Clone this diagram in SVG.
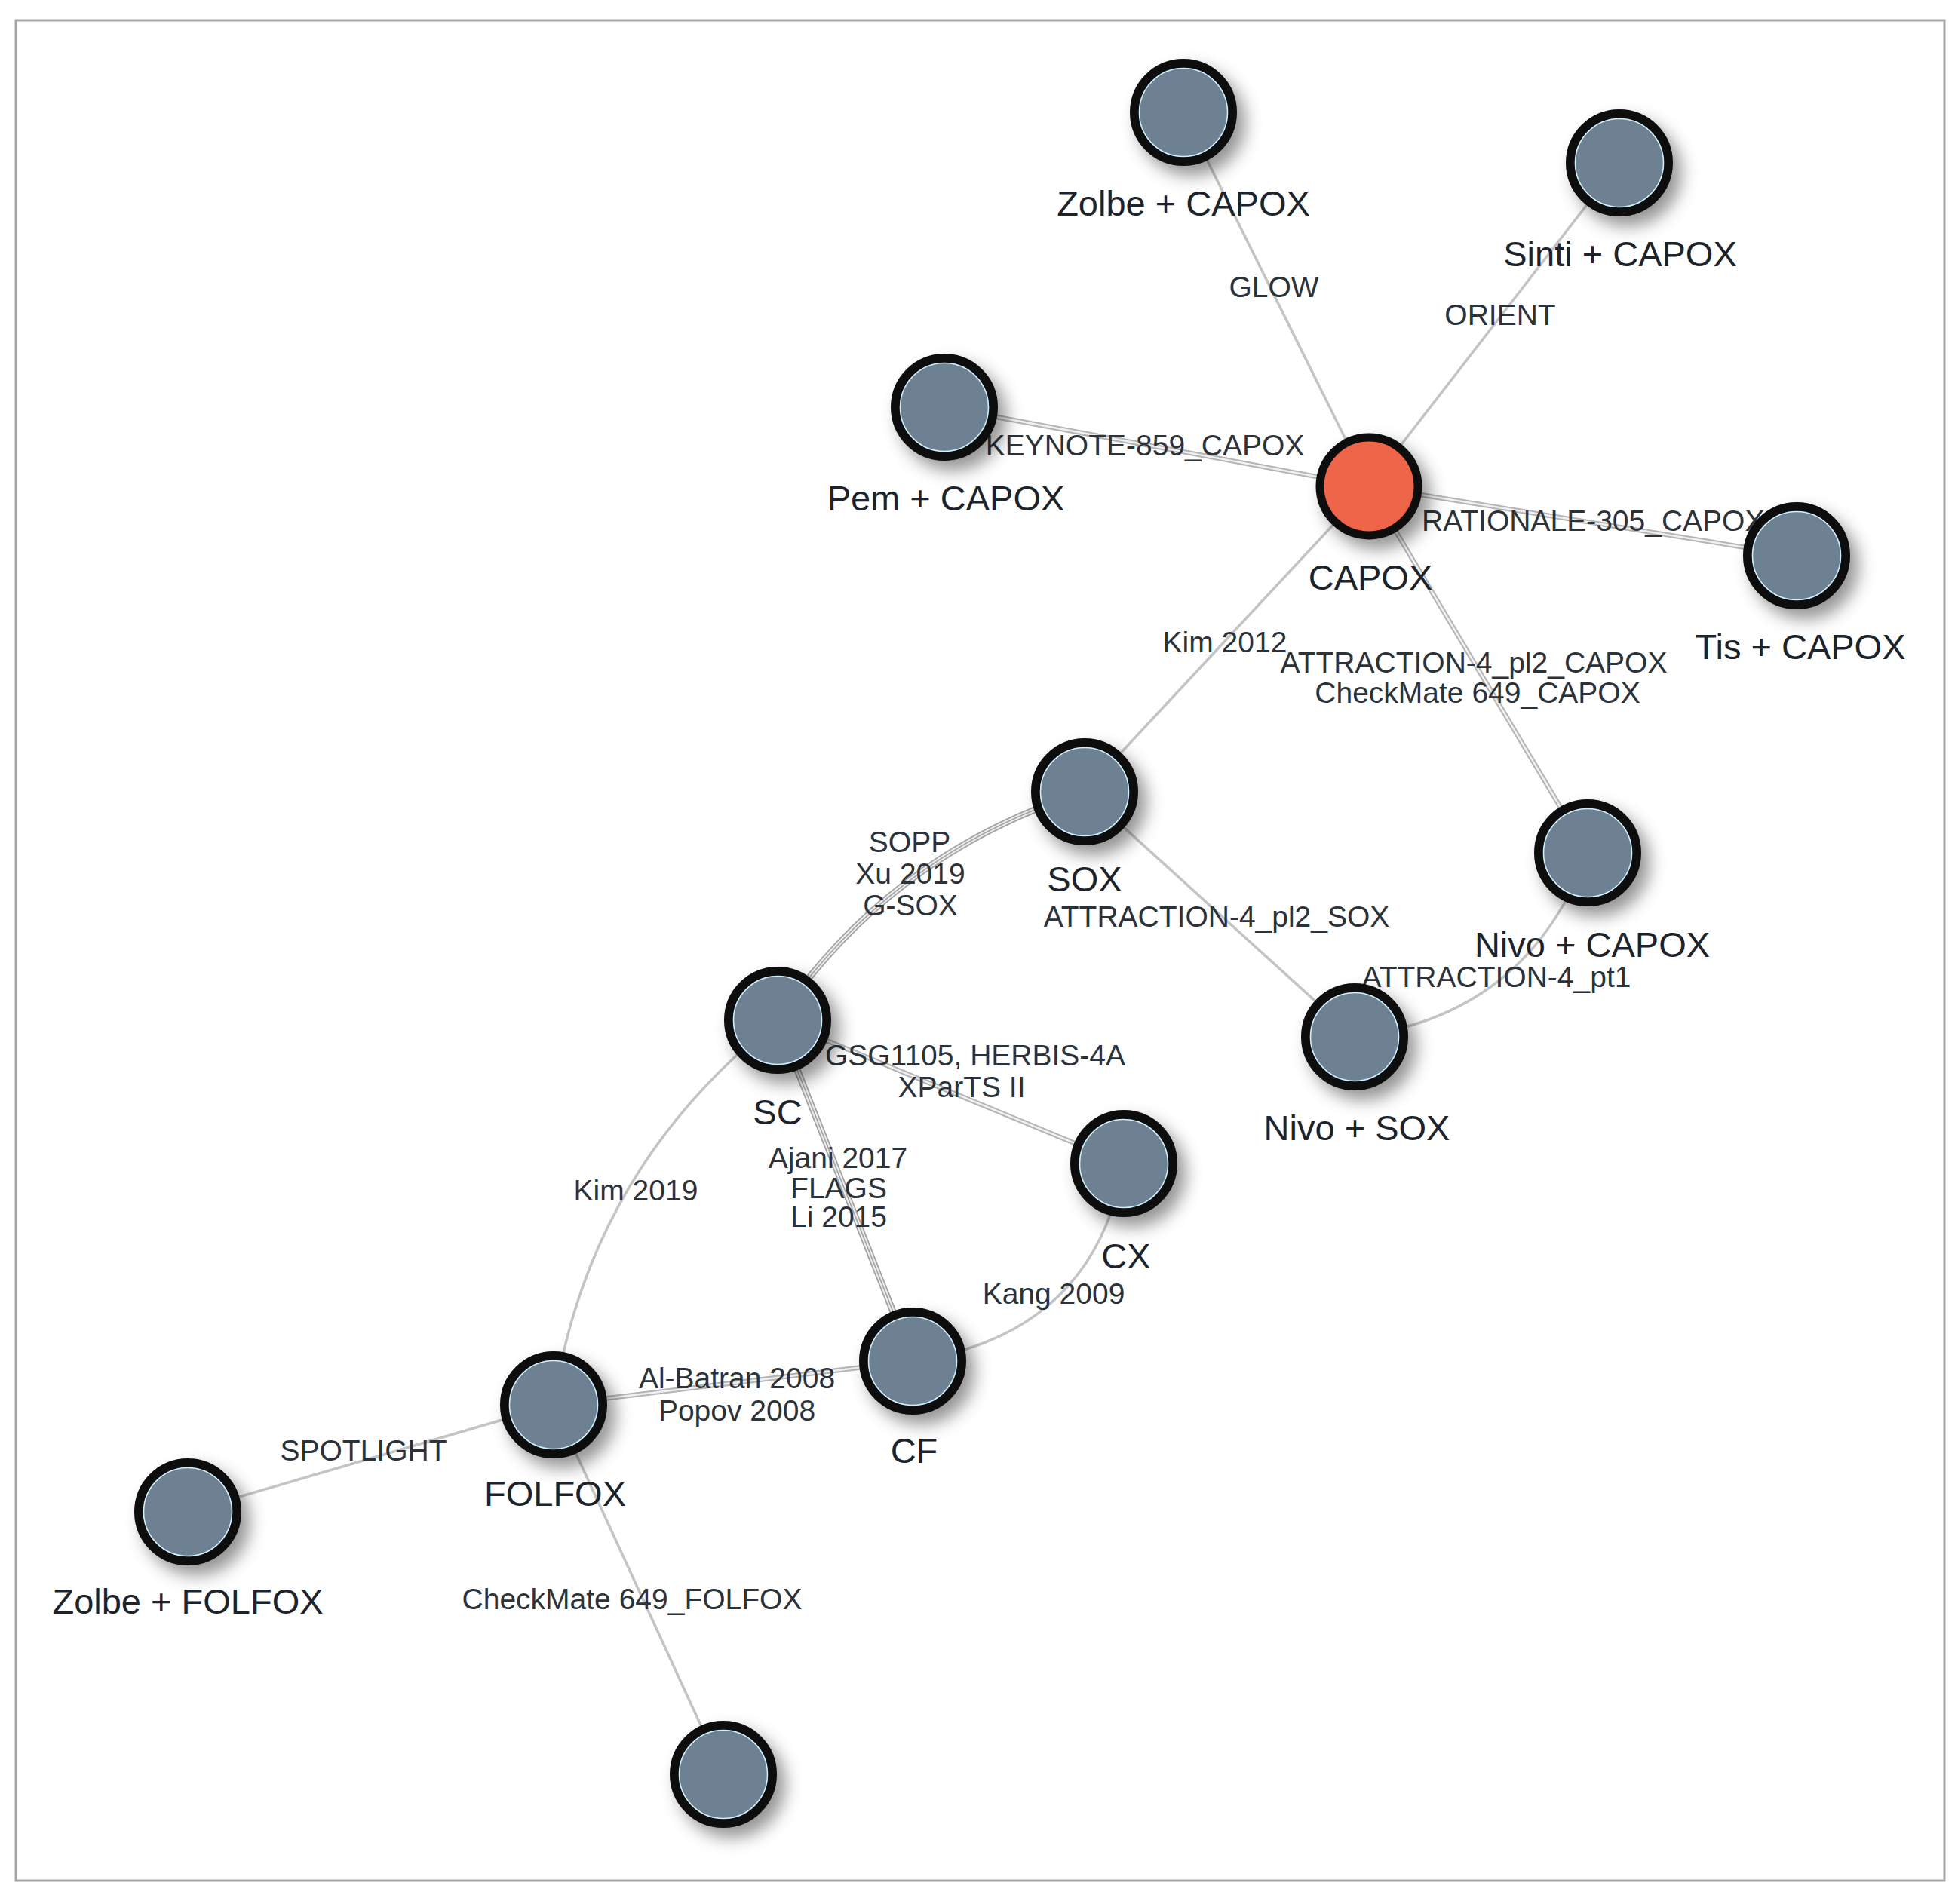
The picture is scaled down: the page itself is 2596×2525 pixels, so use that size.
<svg xmlns="http://www.w3.org/2000/svg" xmlns:xlink="http://www.w3.org/1999/xlink" width="2596" height="2525" viewBox="0 0 2596 2525">
<style>
.frame{fill:none;stroke:#a6a6a6;stroke-width:3}
.s{fill:none;stroke:#c4c4c4;stroke-width:3.5}
.d{fill:none;stroke:#b4b4b4;stroke-width:6.5}
.di{fill:none;stroke:#f0f0f0;stroke-width:2.5}
.t{fill:none;stroke:#a2a2a2;stroke-width:9}
.ti{fill:none;stroke:#ececec;stroke-width:5.5}
.tc{fill:none;stroke:#a2a2a2;stroke-width:1.5}
.elab{font-family:"Liberation Sans",Arial,sans-serif;font-size:39px;fill:#2b323a;text-anchor:middle}
.nlab{font-family:"Liberation Sans",Arial,sans-serif;font-size:47px;fill:#1c232b;text-anchor:middle}
.nd{fill:#6e8193;stroke:#0b0b0b;stroke-width:12;filter:url(#sh)}
.ref{fill:#ef6549;stroke:#0b0b0b;stroke-width:11;filter:url(#sh)}
.ring{fill:none;stroke:#cdeefa;stroke-width:1.6}
</style>
<defs>
<filter id="sh" x="-50%" y="-50%" width="220%" height="220%">
<feDropShadow dx="11" dy="13" stdDeviation="11" flood-color="#000" flood-opacity="0.42"/>
</filter>
<path id="p3" d="M1252,540 L1815,645"/>
<path id="p4" d="M1815,645 L2382,737"/>
<path id="p6" d="M1815,645 L2105,1131"/>
<path id="p7" d="M1438,1050 Q1181,1131 1031,1353"/>
<path id="p10" d="M1031,1353 L1490,1543"/>
<path id="p11" d="M1031,1353 L1210,1805"/>
<path id="p14" d="M734,1863 L1210,1805"/>
</defs>
<rect x="0" y="0" width="2596" height="2525" fill="#ffffff"/>
<rect class="frame" x="21" y="27" width="2557" height="2467"/>

<g id="connectors">
<path class="s" d="M1569,149 L1815,645"/>
<path class="s" d="M2147,216 L1815,645"/>
<use href="#p3" class="d"/><use href="#p3" class="di"/>
<use href="#p4" class="d"/><use href="#p4" class="di"/>
<path class="s" d="M1815,645 L1438,1050"/>
<use href="#p6" class="d"/><use href="#p6" class="di"/>
<use href="#p7" class="t"/><use href="#p7" class="ti"/><use href="#p7" class="tc"/>
<path class="s" d="M1438,1050 L1796,1375"/>
<path class="s" d="M1796,1375 Q2024,1348 2105,1131"/>
<use href="#p10" class="d"/><use href="#p10" class="di"/>
<use href="#p11" class="t"/><use href="#p11" class="ti"/><use href="#p11" class="tc"/>
<path class="s" d="M1031,1353 Q780,1551 734,1863"/>
<path class="s" d="M1490,1543 Q1450,1770 1210,1805"/>
<use href="#p14" class="d"/><use href="#p14" class="di"/>
<path class="s" d="M734,1863 L249,2005"/>
<path class="s" d="M734,1863 L959,2353"/>

<text class="elab" x="1689" y="394">GLOW</text>
<text class="elab" x="1989" y="431">ORIENT</text>
<text class="elab" x="1518" y="604">KEYNOTE-859_CAPOX</text>
<text class="elab" x="1885" y="704" style="text-anchor:start">RATIONALE-305_CAPOX</text>
<text class="elab" x="1624" y="865">Kim 2012</text>
<text class="elab" x="1954" y="892">ATTRACTION-4_pl2_CAPOX</text>
<text class="elab" x="1959" y="932">CheckMate 649_CAPOX</text>
<text class="elab" x="1206" y="1130">SOPP</text>
<text class="elab" x="1207" y="1172">Xu 2019</text>
<text class="elab" x="1207" y="1214">G-SOX</text>
<text class="elab" x="1613" y="1229">ATTRACTION-4_pl2_SOX</text>
<text class="elab" x="1984" y="1309">ATTRACTION-4_pt1</text>
<text class="elab" x="1293" y="1413">GSG1105, HERBIS-4A</text>
<text class="elab" x="1275" y="1455">XParTS II</text>
<text class="elab" x="1111" y="1549">Ajani 2017</text>
<text class="elab" x="1112" y="1589">FLAGS</text>
<text class="elab" x="1112" y="1627">Li 2015</text>
<text class="elab" x="843" y="1592">Kim 2019</text>
<text class="elab" x="1397" y="1729">Kang 2009</text>
<text class="elab" x="977" y="1841">Al-Batran 2008</text>
<text class="elab" x="977" y="1884">Popov 2008</text>
<text class="elab" x="482" y="1937">SPOTLIGHT</text>
<text class="elab" x="838" y="2134">CheckMate 649_FOLFOX</text>
</g>

<g id="node-zolbe-capox"><circle class="nd" cx="1569" cy="149" r="65"/><circle class="ring" cx="1569" cy="149" r="58.5"/><text class="nlab" x="1569" y="286">Zolbe + CAPOX</text></g>
<g id="node-sinti-capox"><circle class="nd" cx="2147" cy="216" r="65"/><circle class="ring" cx="2147" cy="216" r="58.5"/><text class="nlab" x="2148" y="353">Sinti + CAPOX</text></g>
<g id="node-pem-capox"><circle class="nd" cx="1252" cy="540" r="65"/><circle class="ring" cx="1252" cy="540" r="58.5"/><text class="nlab" x="1254" y="677">Pem + CAPOX</text></g>
<g id="node-capox"><circle class="ref" cx="1815" cy="645" r="65"/><text class="nlab" x="1817" y="782">CAPOX</text></g>
<g id="node-tis-capox"><circle class="nd" cx="2382" cy="737" r="65"/><circle class="ring" cx="2382" cy="737" r="58.5"/><text class="nlab" x="2387" y="874">Tis + CAPOX</text></g>
<g id="node-sox"><circle class="nd" cx="1438" cy="1050" r="65"/><circle class="ring" cx="1438" cy="1050" r="58.5"/><text class="nlab" x="1438" y="1182">SOX</text></g>
<g id="node-nivo-capox"><circle class="nd" cx="2105" cy="1131" r="65"/><circle class="ring" cx="2105" cy="1131" r="58.5"/><text class="nlab" x="2111" y="1269">Nivo + CAPOX</text></g>
<g id="node-sc"><circle class="nd" cx="1031" cy="1353" r="65"/><circle class="ring" cx="1031" cy="1353" r="58.5"/><text class="nlab" x="1031" y="1491">SC</text></g>
<g id="node-nivo-sox"><circle class="nd" cx="1796" cy="1375" r="65"/><circle class="ring" cx="1796" cy="1375" r="58.5"/><text class="nlab" x="1799" y="1512">Nivo + SOX</text></g>
<g id="node-cx"><circle class="nd" cx="1490" cy="1543" r="65"/><circle class="ring" cx="1490" cy="1543" r="58.5"/><text class="nlab" x="1493" y="1682">CX</text></g>
<g id="node-cf"><circle class="nd" cx="1210" cy="1805" r="65"/><circle class="ring" cx="1210" cy="1805" r="58.5"/><text class="nlab" x="1212" y="1940">CF</text></g>
<g id="node-folfox"><circle class="nd" cx="734" cy="1863" r="65"/><circle class="ring" cx="734" cy="1863" r="58.5"/><text class="nlab" x="736" y="1997">FOLFOX</text></g>
<g id="node-zolbe-folfox"><circle class="nd" cx="249" cy="2005" r="65"/><circle class="ring" cx="249" cy="2005" r="58.5"/><text class="nlab" x="249" y="2140">Zolbe + FOLFOX</text></g>
<g id="node-bottom"><circle class="nd" cx="959" cy="2353" r="65"/><circle class="ring" cx="959" cy="2353" r="58.5"/></g>
</svg>
